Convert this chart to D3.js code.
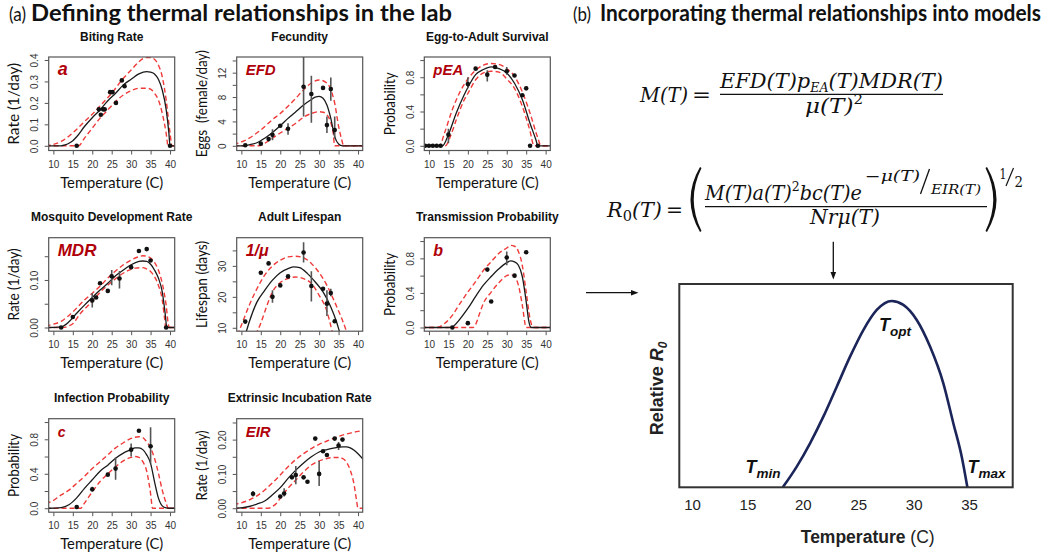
<!DOCTYPE html>
<html><head><meta charset="utf-8">
<script src="https://cdn.jsdelivr.net/npm/d3@7"></script>
<style>body{margin:0;background:#fff}svg{display:block}</style>
</head><body>
<svg id="c" width="1050" height="558"></svg>
<script>
// ---------- DATA ----------
// points: [T, value, (errLo, errHi)]
const bitePts = [[16,0],[21.7,0.17],[22.2,0.145],[22.8,0.17],[23.2,0.17],[24.6,0.25],[25.2,0.25],[26.1,0.2],[27.6,0.305],[28.3,0.278],[40,0]];
const biteFit = [[8,0],[12,0],[13,0.004],[14,0.012],[15,0.024],[16,0.042],[18,0.09],[20,0.131],[22,0.167],[24,0.21],[26,0.245],[28,0.284],[30,0.31],[32,0.335],[34,0.346],[35,0.343],[36,0.335],[37,0.31],[38,0.26],[39,0.17],[39.7,0.06],[40,0],[42,0]];
const biteHi = [[8,0.001],[9,0.003],[12,0.02],[15,0.06],[18,0.113],[20,0.147],[22,0.186],[25,0.245],[28,0.315],[30,0.353],[32,0.392],[34,0.412],[35,0.412],[36,0.403],[37,0.377],[38,0.322],[39,0.214],[40,0.06],[40.5,0],[42,0]];
const biteLo = [[8,0],[16.5,0],[18,0.036],[20,0.082],[22,0.129],[24,0.167],[26,0.206],[28,0.237],[30,0.257],[32,0.268],[34,0.268],[35,0.264],[36,0.245],[37,0.214],[38,0.152],[39,0.059],[39.5,0],[42,0]];

const fecPts = [[11,0.1],[15,0.35],[17,1.1],[18,1.8,0.9,2.7],[20,3.3],[22,2.8,1.8,3.7],[26,9.7,4.8,16],[28,8.5,3.8,11.5],[31,9.5],[32,3.4,2.1,4.8],[33,9.3,7.4,11.2],[34,2.6,1.2,4.8]];
const fecFit = [[8,0],[10,0],[12,0.16],[14,0.5],[16,1.25],[18,2.2],[20,3.3],[22,4.5],[24,5.6],[26,6.7],[28,7.6],[29,8.0],[30,8.1],[31,7.8],[32,6.7],[33,4.5],[34,1.5],[35,0.3],[36,0],[42,0]];
const fecHi = [[8,0.2],[9,0.4],[12,1.25],[15,2.6],[18,4.3],[20,5.3],[22,6.5],[24,7.8],[26,9.2],[28,10.3],[30,10.8],[32,10.3],[33,9.2],[34,7.0],[35,3.2],[35.8,1.0],[36.3,0],[42,0]];
const fecLo = [[8,0],[14.5,0],[16,0.4],[18,1.25],[20,2.1],[22,2.9],[24,3.7],[26,4.7],[28,5.3],[30,5.6],[31,5.5],[32,5.1],[33,3.8],[33.6,2.1],[34,0],[42,0]];

const peaPts = [[9,0],[10,0],[11,0],[12,0],[13,0],[15,0.13,0.03,0.2],[20,0.72,0.67,0.8],[22,0.9],[25,0.83,0.75,0.88],[27,0.92],[30,0.87,0.83,0.92],[32,0.82],[34,0.59],[35,0.67],[36,0],[38,0]];
const peaFit = [[8,0],[13.5,0],[15,0.13],[17,0.38],[19,0.59],[20,0.68],[22,0.83],[24,0.89],[26,0.92],[28,0.9],[30,0.85],[32,0.73],[34,0.54],[36,0.26],[37.5,0.07],[38,0],[42,0]];
const peaHi = [[8,0],[12.7,0],[14,0.15],[16,0.42],[18,0.63],[20,0.78],[22,0.88],[24,0.94],[26,0.96],[28,0.95],[30,0.9],[32,0.81],[34,0.63],[36,0.38],[38,0.09],[38.8,0],[42,0]];
const peaLo = [[8,0],[14.2,0],[15.5,0.11],[17,0.3],[19,0.53],[20,0.61],[22,0.77],[24,0.85],[26,0.87],[28,0.86],[30,0.78],[32,0.67],[34,0.46],[36,0.17],[37,0],[42,0]];

const mdrPts = [[12,0],[15,0.022],[20,0.057,0.042,0.072],[21,0.063],[22,0.093],[24,0.077],[25,0.108,0.089,0.121],[27,0.103,0.082,0.119],[30,0.127],[32,0.161],[34,0.165],[35,0.141],[39,0]];
const mdrFit = [[8,0],[9,0],[12,0.0014],[14,0.012],[16,0.03],[18,0.047],[20,0.063],[22,0.079],[24,0.093],[26,0.109],[28,0.121],[30,0.132],[32,0.139],[33,0.14],[34,0.139],[35,0.133],[36,0.121],[37,0.104],[38,0.075],[38.7,0.033],[39.2,0],[42,0]];
const mdrHi = [[8,0.003],[9,0.005],[12,0.013],[15,0.033],[18,0.058],[20,0.072],[22,0.087],[24,0.104],[26,0.119],[28,0.132],[30,0.142],[32,0.149],[33,0.151],[34,0.15],[35,0.146],[36,0.137],[37,0.121],[38,0.093],[39,0.047],[39.6,0.005],[39.8,0],[42,0]];
const mdrLo = [[8,0],[12.5,0],[14,0.0035],[15,0.008],[17,0.03],[19,0.047],[21,0.065],[23,0.082],[25,0.096],[27,0.109],[29,0.119],[31,0.125],[33,0.126],[34,0.123],[35,0.118],[36,0.107],[37,0.089],[38,0.058],[38.6,0.019],[38.9,0],[42,0]];

const lifePts = [[11,12],[15,27.8],[17,30.8],[18,20,18.1,22.1],[20,23.7],[22,26.6],[26,34.3,31.1,37.6],[28,23.5,18.5,28.3],[31,22.6],[32,17.8,13.8,22.1],[33,21.2,20.2,22.6],[34,12.1]];
const lifeFit = [[11,7.7],[11.3,8.9],[12,11.8],[14,18.3],[16,22.1],[18,25.4],[20,27.8],[22,29.1],[23.5,29.7],[25,29.4],[27,27.5],[29,24.8],[31,21.6],[33,16.7],[34.5,11.8],[35.2,8.9],[35.5,7.7]];
const lifeHi = [[9,7.6],[9.4,8.9],[10,10.8],[12,17.2],[14,22.6],[16,27],[18,30],[20,31.8],[22,32.9],[24,33.1],[26,32.6],[28,30.8],[30,27.8],[32,23.7],[34,18.3],[36,12.4],[37,8.9],[37.3,7.7]];
const lifeLo = [[13.7,7.7],[14.1,8.9],[15,11.5],[16,15.1],[18,21.6],[20,24.6],[22,25.9],[24,26.4],[26,25.9],[28,24.3],[30,20.5],[32,15.3],[33.3,8.9],[33.5,7.7]];

const trPts = [[16,0],[20,0.05],[25,0.67],[26,0.3],[30,0.81,0.72,0.88],[32,0.6],[35,0.87]];
const trFit = [[8,0],[15,0],[16,0.008],[18,0.1],[20,0.22],[22,0.36],[24,0.49],[26,0.59],[28,0.68],[30,0.75],[31,0.77],[32,0.76],[33,0.72],[34,0.59],[35,0.3],[35.7,0.066],[36.3,0],[42,0]];
const trHi = [[8,0],[12,0],[14,0.046],[16,0.14],[18,0.28],[20,0.41],[22,0.53],[24,0.66],[26,0.76],[28,0.86],[30,0.92],[31,0.95],[32,0.94],[33,0.88],[34,0.72],[35,0.41],[36,0.1],[36.8,0],[42,0]];
const trLo = [[8,0],[21.3,0],[22,0.035],[23,0.16],[24,0.28],[26,0.41],[28,0.52],[30,0.6],[31,0.61],[32,0.59],[33,0.49],[34,0.26],[35,0],[42,0]];

const infPts = [[16,0.015],[20,0.22,0.19,0.25],[24,0.39],[26,0.46,0.33,0.59],[30,0.68,0.6,0.75],[32,0.9],[35,0.72,0.52,0.94]];
const infFit = [[8,0],[9,0],[12,0.008],[14,0.04],[16,0.12],[18,0.23],[20,0.33],[22,0.43],[24,0.5],[26,0.58],[28,0.64],[30,0.68],[31,0.7],[32,0.7],[33,0.68],[34,0.62],[35,0.52],[36,0.31],[37,0.12],[38,0.027],[39,0.004],[40,0],[42,0]];
const infHi = [[8,0.065],[9,0.07],[12,0.155],[14,0.21],[16,0.29],[18,0.37],[20,0.46],[22,0.54],[24,0.62],[26,0.7],[28,0.76],[30,0.81],[32,0.83],[33,0.82],[34,0.77],[35,0.7],[36,0.58],[37,0.41],[38,0.21],[39,0.06],[39.5,0],[42,0]];
const infLo = [[8,0],[17,0],[18,0.06],[20,0.19],[22,0.31],[24,0.4],[26,0.48],[28,0.55],[30,0.59],[31,0.6],[32,0.59],[33,0.54],[34,0.43],[35,0.17],[35.5,0],[42,0]];

const eirPts = [[13,0.042,0.034,0.05],[20,0.034],[21,0.043,0.034,0.058],[23,0.09],[24,0.097,0.07,0.123],[26,0.09],[27,0.077],[29,0.203],[30,0.1,0.065,0.138],[31,0.166],[32,0.155],[34,0.203],[35,0.183,0.17,0.193],[36,0.2]];
const eirFit = [[8,0],[9,0],[12,0.005],[14,0.012],[16,0.021],[18,0.039],[20,0.06],[22,0.087],[24,0.111],[26,0.132],[28,0.15],[30,0.164],[32,0.171],[34,0.176],[36,0.179],[37,0.179],[38,0.176],[39,0.169],[40,0.159],[41.5,0.14]];
const eirHi = [[8,0.011],[9,0.013],[12,0.024],[14,0.036],[16,0.053],[18,0.074],[20,0.097],[22,0.121],[24,0.142],[26,0.159],[28,0.174],[30,0.186],[32,0.196],[34,0.205],[36,0.213],[38,0.219],[40,0.224],[41.5,0.226]];
const eirLo = [[8,0],[17,0],[18,0.005],[19,0.014],[20,0.029],[22,0.058],[24,0.082],[26,0.106],[28,0.126],[30,0.138],[32,0.145],[34,0.148],[35,0.148],[36,0.145],[37,0.135],[38,0.111],[39,0.068],[39.6,0.024],[40,0],[42,0]];

// Relative R0 curve (panel b)
const r0Curve = [[18.19,0],[19.45,0.111],[20.65,0.236],[21.85,0.379],[23.06,0.54],[24.26,0.701],[25.46,0.844],[26.67,0.952],[28.02,1],[29.07,0.979],[30.28,0.898],[31.48,0.755],[32.68,0.558],[33.58,0.344],[34.34,0.164],[34.85,0]];
const r0Ticks = [10,15,20,25,30,35];
const xTicks = [10,15,20,25,30,35,40];

const titles  = ["Biting Rate","Fecundity","Egg-to-Adult Survival","Mosquito Development Rate","Adult Lifespan","Transmission Probability","Infection Probability","Extrinsic Incubation Rate"];
const yTitles = ["Rate (1/day)","Eggs  (female/day)","Probability","Rate (1/day)","Lifespan (days)","Probability","Probability","Rate (1/day)"];
const letters = ["a","EFD","pEA","MDR","1/\u03bc","b","c","EIR"];
const yTickVals = [[0,0.1,0.2,0.3,0.4],[0,2,4,6,8,10,12,14],[0,0.2,0.4,0.6,0.8,1],[0,0.05,0.1,0.15],[10,15,20,25,30,35],[0,0.2,0.4,0.6,0.8,1],[0,0.2,0.4,0.6,0.8,1],[0,0.05,0.1,0.15,0.2,0.25]];
const yTickLabs = [["0.0","0.1","0.2","0.3","0.4"],["0","","4","","8","","12",""],["0.0","","0.4","","0.8",""],["0.00","","0.10",""],["10","","20","","30",""],["0.0","","0.4","","0.8",""],["0.0","","0.4","","0.8",""],["0.00","","0.10","","0.20",""]];
const yDomains = [[-0.022,0.414],[-0.77,14.57],[-0.055,1.036],[-0.0078,0.189],[8.9,39.1],[-0.043,1.039],[-0.046,1.039],[-0.0116,0.261]];
const series = [
  [bitePts,biteFit,biteHi,biteLo],[fecPts,fecFit,fecHi,fecLo],[peaPts,peaFit,peaHi,peaLo],
  [mdrPts,mdrFit,mdrHi,mdrLo],[lifePts,lifeFit,lifeHi,lifeLo],[trPts,trFit,trHi,trLo],
  [infPts,infFit,infHi,infLo],[eirPts,eirFit,eirHi,eirLo]];

// ---------- LAYOUT / STYLE ----------
const SANS = "'Liberation Sans', Arial, sans-serif";
const CAL = "Lato, 'Open Sans', sans-serif";
const MATH = "'DejaVu Serif', serif";
const colX = [48.7, 236.7, 424.3], rowY = [57, 237.7, 418.7];
const PW = 126, PH = 93.5;
const letterSize = [18,15,15,17,16,16,14,15];
const yTitleLen = [82,107,63,72,87,63,63,70];
const DARKRED = "#b0000a";

const svg = d3.select("#c");
const defs = svg.append("defs");

series.forEach((s, i) => {
  const col = i % 3, row = Math.floor(i / 3);
  const x0 = colX[col], y0 = rowY[row];
  const x = d3.scaleLinear().domain([8.8, 41.2]).range([x0, x0 + PW]);
  const y = d3.scaleLinear().domain(yDomains[i]).range([y0 + PH, y0]);
  const g = svg.append("g");
  defs.append("clipPath").attr("id", "cp" + i).append("rect")
    .attr("x", x0).attr("y", y0).attr("width", PW).attr("height", PH);

  // x axis
  const xa = g.append("g").attr("transform", `translate(0,${y0 + PH})`)
    .call(d3.axisBottom(x).tickValues(xTicks).tickSize(4).tickSizeOuter(0).tickFormat(d3.format("d")));
  xa.select(".domain").remove();
  xa.selectAll("line").attr("stroke", "#555");
  xa.selectAll("text").attr("y", 17).attr("dy", 0).attr("font-family", SANS).attr("font-size", 10).attr("fill", "#333");
  // y axis
  const labs = yTickLabs[i];
  const ya = g.append("g").attr("transform", `translate(${x0},0)`)
    .call(d3.axisLeft(y).tickValues(yTickVals[i]).tickSize(4).tickSizeOuter(0)
      .tickFormat((d, k) => labs[k]));
  ya.select(".domain").remove();
  ya.selectAll("line").attr("stroke", "#555");
  ya.selectAll("text").attr("x", 0).attr("y", -10.5).attr("dy", 0)
    .attr("transform", "rotate(-90)").attr("text-anchor", "middle")
    .attr("font-family", SANS).attr("font-size", 10).attr("fill", "#333");

  // curves
  const line = d3.line().x(d => x(d[0])).y(d => y(d[1])).curve(d3.curveMonotoneX);
  const cg = g.append("g").attr("clip-path", `url(#cp${i})`);
  [s[2], s[3]].forEach(c => cg.append("path").attr("d", line(c)).attr("fill", "none")
    .attr("stroke", "#f03a3a").attr("stroke-width", 1.4).attr("stroke-dasharray", "5,3"));
  cg.append("path").attr("d", line(s[1])).attr("fill", "none").attr("stroke", "#1a1a1a").attr("stroke-width", 1.3);
  // error bars
  cg.selectAll("line.err").data(s[0].filter(d => d.length > 2)).join("line")
    .attr("x1", d => x(d[0])).attr("x2", d => x(d[0]))
    .attr("y1", d => y(d[2])).attr("y2", d => y(d[3]))
    .attr("stroke", "#555").attr("stroke-width", 1.6);
  // points
  cg.selectAll("circle").data(s[0]).join("circle")
    .attr("cx", d => x(d[0])).attr("cy", d => y(d[1])).attr("r", 2.3).attr("fill", "#111");

  // box
  g.append("rect").attr("x", x0).attr("y", y0).attr("width", PW).attr("height", PH)
    .attr("fill", "none").attr("stroke", "#555").attr("stroke-width", 1.2);

  // texts
  g.append("text").attr("x", x0 + PW / 2).attr("y", y0 - 16.5).attr("text-anchor", "middle")
    .attr("font-family", SANS).attr("font-weight", "bold").attr("font-size", 12).attr("fill", "#111").text(titles[i]);
  g.append("text").attr("x", x0 + PW / 2).attr("y", y0 + PH + 37).attr("text-anchor", "middle")
    .attr("font-family", CAL).attr("font-size", 15).attr("fill", "#111")
    .attr("textLength", 103).attr("lengthAdjust", "spacingAndGlyphs").text("Temperature (C)");
  g.append("text").attr("transform", `translate(${x0 - 35},${y0 + PH / 2}) rotate(-90)`)
    .attr("text-anchor", "middle").attr("dy", "0.35em")
    .attr("font-family", CAL).attr("font-size", 15).attr("fill", "#111")
    .attr("textLength", yTitleLen[i]).attr("lengthAdjust", "spacingAndGlyphs")
    .style("white-space", "pre").text(yTitles[i]);
  g.append("text").attr("x", x0 + 9).attr("y", y0 + 18)
    .attr("font-family", SANS).attr("font-weight", "bold").attr("font-style", "italic")
    .attr("font-size", letterSize[i]).attr("fill", DARKRED).text(letters[i]);
});

// ---------- headings ----------
function heading(xa, la, xb, len, label, body) {
  svg.append("text").attr("x", xa).attr("y", 21).attr("font-family", CAL).attr("font-size", 20)
    .attr("fill", "#111").attr("textLength", la).attr("lengthAdjust", "spacingAndGlyphs").text(label);
  svg.append("text").attr("x", xb).attr("y", 21).attr("font-family", CAL).attr("font-weight", "bold")
    .attr("font-size", 22).attr("fill", "#111").attr("textLength", len)
    .attr("lengthAdjust", "spacingAndGlyphs").text(body);
}
heading(9, 17, 31, 421, "(a)", "Defining thermal relationships in the lab");
heading(573, 18, 600, 441, "(b)", "Incorporating thermal relationships into models");

// ---------- equations ----------
function mtext(x, y, size, len, parts, italicDefault = true) {
  const t = svg.append("text").attr("x", x).attr("y", y).attr("font-family", MATH)
    .attr("font-size", size).attr("fill", "#111");
  if (len) t.attr("textLength", len).attr("lengthAdjust", "spacingAndGlyphs");
  parts.forEach(p => {
    const ts = t.append("tspan").text(p.t);
    ts.attr("font-style", p.it === false ? "normal" : (italicDefault ? "italic" : "normal"));
    if (p.s) ts.attr("font-size", p.s);
    if (p.dy) ts.attr("dy", p.dy);
  });
  return t;
}
// M(T) = ...
mtext(640, 101.7, 20, 48, [{t: "M(T)"}]);
mtext(692, 101.7, 20, 19, [{t: "=", it: false}]);
mtext(720, 88, 20, 223, [{t: "EFD(T)p"}, {t: "EA", s: 12, dy: 4}, {t: "(T)MDR(T)", dy: -4}]);
svg.append("line").attr("x1", 720).attr("x2", 943).attr("y1", 94.3).attr("y2", 94.3).attr("stroke", "#111").attr("stroke-width", 1.2);
mtext(805, 113, 20, 58, [{t: "\u03bc(T)"}, {t: "2", it: false, s: 13, dy: -9}]);

// R0(T) = ...
mtext(607, 217, 20, 55, [{t: "R"}, {t: "0", it: false, s: 14, dy: 4}, {t: "(T)", dy: -4}]);
mtext(666, 217, 20, 17, [{t: "=", it: false}]);
svg.append("path").attr("d", "M700,167 Q681,199.5 700,232 L701.5,231 Q686,199.5 701.5,168 Z").attr("fill", "#111");
svg.append("path").attr("d", "M987,167 Q1006,199.5 987,232 L985.5,231 Q1001,199.5 985.5,168 Z").attr("fill", "#111");
mtext(705, 200, 20, 157, [{t: "M(T)a(T)"}, {t: "2", it: false, s: 13, dy: -9}, {t: "bc(T)e", dy: 9}]);
mtext(865, 181, 14, 55, [{t: "\u2212", it: false}, {t: "\u03bc(T)"}]);
svg.append("line").attr("x1", 920.5).attr("y1", 194).attr("x2", 929.5).attr("y2", 169).attr("stroke", "#111").attr("stroke-width", 1.3);
mtext(931, 194, 12, 50, [{t: "EIR(T)"}]);
svg.append("line").attr("x1", 705).attr("x2", 987).attr("y1", 206.7).attr("y2", 206.7).attr("stroke", "#111").attr("stroke-width", 1.2);
mtext(810, 224, 20, 70, [{t: "Nr\u03bc(T)"}]);
mtext(999.5, 179, 14, 7, [{t: "1", it: false}]);
svg.append("line").attr("x1", 1006).attr("y1", 186).attr("x2", 1013.5).attr("y2", 168).attr("stroke", "#111").attr("stroke-width", 1.2);
mtext(1014.5, 186.5, 14, 8.5, [{t: "2", it: false}]);

// ---------- arrows ----------
svg.append("line").attr("x1", 586).attr("x2", 632).attr("y1", 292.7).attr("y2", 292.7).attr("stroke", "#111").attr("stroke-width", 1.3);
svg.append("path").attr("d", "M638.5,292.7 L631,289.9 L631,295.5 Z").attr("fill", "#111");
svg.append("line").attr("x1", 833.3).attr("x2", 833.3).attr("y1", 241.7).attr("y2", 273).attr("stroke", "#111").attr("stroke-width", 1.3);
svg.append("path").attr("d", "M833.3,279.5 L830.5,272 L836.1,272 Z").attr("fill", "#111");

// ---------- panel (b) R0 plot ----------
const bx0 = 679.3, bx1 = 1012.7, by0 = 284, by1 = 487.3;
const X = d3.scaleLinear().domain([8.85, 38.94]).range([bx0, bx1]);
const Y = d3.scaleLinear().domain([0, 1.091]).range([by1, by0]);
svg.append("path").attr("d", d3.line().x(d => X(d[0])).y(d => Y(d[1])).curve(d3.curveMonotoneX)(r0Curve))
  .attr("fill", "none").attr("stroke", "#1b2559").attr("stroke-width", 2.6);
svg.append("rect").attr("x", bx0).attr("y", by0).attr("width", bx1 - bx0).attr("height", by1 - by0)
  .attr("fill", "none").attr("stroke", "#333").attr("stroke-width", 2);
const bax = svg.append("g").attr("transform", `translate(0,${by1})`)
  .call(d3.axisBottom(X).tickValues(r0Ticks).tickSize(0).tickFormat(d3.format("d")));
bax.select(".domain").remove();
bax.selectAll("text").attr("y", 23).attr("dy", 0).attr("font-family", SANS).attr("font-size", 15).attr("fill", "#222");

const xt = svg.append("text").attr("x", 867.7).attr("y", 543).attr("text-anchor", "middle")
  .attr("font-family", SANS).attr("font-size", 17.5).attr("fill", "#222");
xt.append("tspan").attr("font-weight", "bold").text("Temperature");
xt.append("tspan").text(" (C)");
const yt = svg.append("text").attr("transform", "translate(663,388.5) rotate(-90)").attr("text-anchor", "middle")
  .attr("font-family", SANS).attr("font-size", 18).attr("font-weight", "bold").attr("fill", "#222");
yt.append("tspan").text("Relative ");
yt.append("tspan").attr("font-style", "italic").text("R");
yt.append("tspan").attr("font-style", "italic").attr("font-size", 12).attr("dy", 4).text("0");

function tlabel(x, y, sub) {
  const t = svg.append("text").attr("x", x).attr("y", y).attr("font-family", SANS)
    .attr("font-weight", "bold").attr("font-style", "italic").attr("fill", "#111");
  t.append("tspan").attr("font-size", 18).text("T");
  t.append("tspan").attr("font-size", 13.5).attr("dy", 5).text(sub);
}
tlabel(745.5, 472.7, "min");
tlabel(879, 331, "opt");
tlabel(967.5, 472.7, "max");
</script>
</body></html>
